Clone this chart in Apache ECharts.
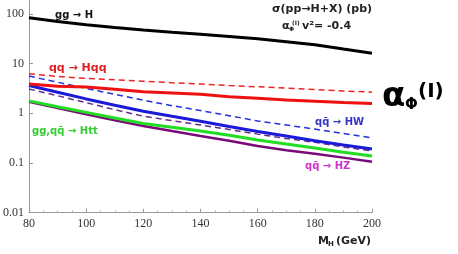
<!DOCTYPE html>
<html><head><meta charset="utf-8">
<script src="https://cdn.jsdelivr.net/npm/echarts@6/dist/echarts.min.js"></script>
<style>html,body{margin:0;padding:0;background:#fff}#c{width:458px;height:254px}</style>
</head><body><div id="c"></div>
<script>
const massX = [80, 90, 100, 110, 120, 130, 140, 150, 160, 170, 180, 190, 200];
const ggH        = [83, 70, 60, 53, 47, 42.5, 38.8, 35, 31.3, 27.3, 23.7, 19.5, 16.1];
const qqHqqSM    = [6.2, 5.5, 5.0, 4.7, 4.4, 4.1, 3.85, 3.6, 3.4, 3.2, 3.0, 2.8, 2.65];
const qqHqq      = [3.85, 3.5, 3.35, 3.05, 2.7, 2.55, 2.4, 2.15, 2.0, 1.85, 1.75, 1.65, 1.57];
const HWSM       = [5.6, 4.2, 3.16, 2.4, 1.83, 1.42, 1.13, 0.89, 0.70, 0.58, 0.48, 0.39, 0.32];
const HW         = [3.6, 2.65, 1.94, 1.45, 1.1, 0.87, 0.69, 0.54, 0.43, 0.35, 0.28, 0.23, 0.19];
const HZSM       = [3.07, 2.25, 1.63, 1.18, 0.87, 0.71, 0.58, 0.47, 0.38, 0.31, 0.26, 0.21, 0.174];
const Htt        = [1.77, 1.35, 1.04, 0.8, 0.62, 0.52, 0.44, 0.36, 0.29, 0.24, 0.20, 0.165, 0.138];
const HZ         = [1.7, 1.27, 0.95, 0.72, 0.556, 0.44, 0.35, 0.28, 0.22, 0.18, 0.153, 0.128, 0.106];
const xTicks = [80, 100, 120, 140, 160, 180, 200];
const yTicks = [0.01, 0.1, 1, 10, 100];

const pairs = v => massX.map((x, i) => [x, v[i]]);
function line(name, data, color, width, dashed) {
  return { name, type: 'line', data: pairs(data), symbol: 'none', silent: true,
    lineStyle: { color, width, type: dashed ? [6, 4] : 'solid' } };
}
const chart = echarts.init(document.getElementById('c'), null, { renderer: 'canvas' });
const sans = 'DejaVu Sans';
chart.setOption({
  animation: false,
  grid: { left: 25, right: 86, top: 0, bottom: 41.3, containLabel: false },
  xAxis: {
    type: 'value', min: 80, max: 200, interval: 20,
    axisLine: { lineStyle: { color: '#999', width: 1 } },
    axisTick: { inside: true, length: 4, lineStyle: { color: '#999' } },
    minorTick: { show: true, splitNumber: 4, length: 2, lineStyle: { color: '#aaa' } },
    splitLine: { show: false },
    axisLabel: { fontFamily: 'Liberation Serif', fontSize: 12, color: '#333', margin: 5,
      formatter: v => xTicks.includes(v) ? String(v) : '' }
  },
  yAxis: {
    type: 'log', min: 0.01, max: 189, logBase: 10,
    axisLine: { show: true, lineStyle: { color: '#999', width: 1 } },
    axisTick: { show: true, inside: true, length: 4, lineStyle: { color: '#999' } },
    splitLine: { show: false },
    axisLabel: { fontFamily: 'Liberation Serif', fontSize: 12, color: '#333', margin: 5, showMaxLabel: false,
      formatter: v => { const t = yTicks.find(k => Math.abs(k - v) / k < 1e-6); return t !== undefined ? String(t) : ''; } }
  },
  series: [
    line('HZ', HZ, '#7a0a7a', 2.5, false),
    line('Htt', Htt, '#22dd22', 3, false),
    line('HZ SM', HZSM, '#6a2a8a', 1.5, true),
    line('HW', HW, '#1a1ad8', 3, false),
    line('HW SM', HWSM, '#2233dd', 1.5, true),
    line('Hqq', qqHqq, '#ee1111', 3, false),
    line('Hqq SM', qqHqqSM, '#ee2222', 1.5, true),
    line('ggH', ggH, '#000000', 3, false)
  ],
  graphic: [
    { type: 'text', left: 55, top: 10, style: { text: 'gg → H', font: 'bold 10px ' + sans, fill: '#111' } },
    { type: 'text', left: 49, top: 63, style: { text: 'qq → Hqq', font: 'bold 11px ' + sans, fill: '#e02020' } },
    { type: 'text', left: 32, top: 126, style: { text: 'gg,qq\u0304 → Htt', font: 'bold 10px ' + sans, fill: '#33cc33' } },
    { type: 'text', left: 315, top: 117, style: { text: 'qq\u0304 → HW', font: 'bold 10px ' + sans, fill: '#3333cc' } },
    { type: 'text', left: 305, top: 161, style: { text: 'qq\u0304 → HZ', font: 'bold 10px ' + sans, fill: '#cc33cc' } },
    { type: 'text', left: 272, top: 4, style: { text: 'σ(pp→H+X) (pb)', font: 'bold 11px ' + sans, fill: '#222' } },
    { type: 'text', left: 282, top: 21, style: { text: 'α', font: 'bold 11px ' + sans, fill: '#222' } },
    { type: 'text', left: 289, top: 26, style: { text: 'Φ', font: 'bold 6px ' + sans, fill: '#222' } },
    { type: 'text', left: 292, top: 20, style: { text: '(I)', font: 'bold 6px ' + sans, fill: '#222' } },
    { type: 'text', left: 302, top: 21, style: { text: 'v²= -0.4', font: 'bold 11px ' + sans, fill: '#222' } },
    { type: 'text', left: 382, top: 80, style: { text: 'α', font: 'bold 34px ' + sans, fill: '#000' } },
    { type: 'text', left: 405, top: 98, style: { text: 'Φ', font: 'bold 15px ' + sans, fill: '#000' } },
    { type: 'text', left: 418, top: 82, style: { text: '(I)', font: 'bold 20px ' + sans, fill: '#000' } },
    { type: 'text', left: 318, top: 236, style: { text: 'M', font: 'bold 11px ' + sans, fill: '#222' } },
    { type: 'text', left: 328, top: 241, style: { text: 'H', font: 'bold 7px ' + sans, fill: '#222' } },
    { type: 'text', left: 336, top: 236, style: { text: '(GeV)', font: 'bold 11px ' + sans, fill: '#222' } }
  ]
});
</script></body></html>
